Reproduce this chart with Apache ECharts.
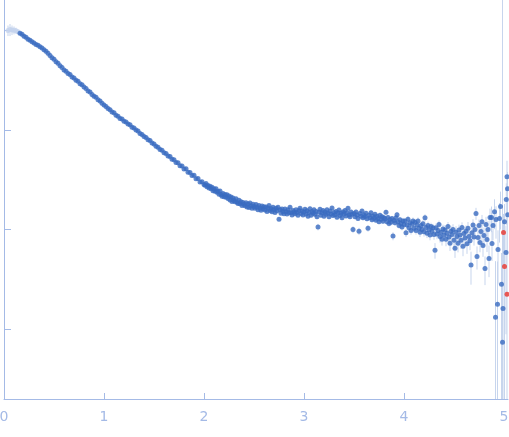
<!DOCTYPE html>
<html>
<head>
<meta charset="utf-8">
<title>SAXS curve</title>
<script src="https://cdn.jsdelivr.net/npm/echarts@6/dist/echarts.min.js"></script>
<style>
  html, body { margin: 0; padding: 0; background: #fff; }
  #chart { width: 509px; height: 437px; }
</style>
</head>
<body>
<div id="chart"></div>
<script>
// scattering vector s (nm^-1) and intensity
// first few points are drawn faded (not used in the fit)
var qMasked = [0.04, 0.06, 0.08, 0.10, 0.12, 0.14];
var iMasked = [99.0, 101, 100, 99.5, 98.5, 96.0];
var sMasked = [12, 14, 11, 9, 7, 5];

// smooth part of the curve
var qLow = [
  0.16, 0.18, 0.20, 0.22, 0.24, 0.26, 0.28, 0.30, 0.32, 0.34,
  0.36, 0.38, 0.40, 0.42, 0.44, 0.46, 0.48, 0.50, 0.52, 0.54,
  0.56, 0.58, 0.60, 0.62, 0.64, 0.66, 0.68, 0.70, 0.72, 0.74,
  0.76, 0.78, 0.80, 0.82, 0.84, 0.86, 0.88, 0.90, 0.92, 0.94,
  0.96, 0.98, 1.00, 1.02, 1.04, 1.06, 1.08, 1.10, 1.12, 1.14,
  1.16, 1.18, 1.20, 1.22, 1.24, 1.26, 1.28, 1.30, 1.32, 1.34,
  1.36, 1.38, 1.40, 1.42, 1.44, 1.46, 1.48, 1.50, 1.52, 1.54,
  1.56, 1.58, 1.60, 1.62, 1.64, 1.66, 1.68, 1.70, 1.72, 1.74,
  1.76, 1.78, 1.80, 1.82, 1.84, 1.86, 1.88, 1.90, 1.92, 1.94,
  1.96, 1.98, 2.00
];
var iLow = [
  92.6, 90.6, 86.8, 84.5, 81.0, 78.9, 76.1, 74.3, 71.6, 70.2,
  67.9, 65.9, 63.6, 61.1, 58.4, 55.7, 52.8, 50.9, 48.1, 46.5,
  43.8, 42.2, 39.7, 38.6, 36.7, 35.8, 33.9, 33.0, 31.4, 30.6,
  29.0, 28.3, 26.8, 25.9, 24.5, 23.9, 22.6, 21.7, 21.2, 20.0,
  19.4, 18.5, 17.7, 17.1, 16.3, 15.9, 15.1, 14.8, 14.0, 13.7,
  13.0, 12.8, 12.2, 11.95, 11.4, 11.2, 10.6, 10.4, 9.94, 9.70,
  9.20, 8.96, 8.55, 8.38, 7.96, 7.80, 7.39, 7.20, 6.84, 6.70,
  6.33, 6.22, 5.90, 5.80, 5.47, 5.39, 5.05, 5.01, 4.70, 4.66,
  4.35, 4.33, 4.05, 4.06, 3.76, 3.74, 3.48, 3.50, 3.22, 3.25,
  3.00, 3.02, 2.83
];
var sLow = [
  1.1, 1.1, 1.0, 1.0, 0.97, 0.95, 0.91, 0.89, 0.86, 0.84,
  0.81, 0.80, 0.76, 0.73, 0.69, 0.67, 0.63, 0.61, 0.58, 0.56,
  0.53, 0.51, 0.48, 0.46, 0.44, 0.43, 0.41, 0.40, 0.38, 0.37,
  0.35, 0.34, 0.32, 0.31, 0.29, 0.29, 0.27, 0.26, 0.25, 0.24,
  0.23, 0.22, 0.21, 0.21, 0.20, 0.19, 0.18, 0.18, 0.17, 0.16,
  0.16, 0.15, 0.15, 0.14, 0.14, 0.13, 0.13, 0.12, 0.12, 0.12,
  0.11, 0.11, 0.10, 0.10, 0.10, 0.094, 0.089, 0.086, 0.082, 0.080,
  0.076, 0.075, 0.071, 0.070, 0.066, 0.065, 0.061, 0.060, 0.056, 0.056,
  0.052, 0.052, 0.049, 0.049, 0.045, 0.045, 0.042, 0.042, 0.039, 0.039,
  0.036, 0.036, 0.034
];

// noisy plateau
var qMid = [
  2.01, 2.02, 2.03, 2.04, 2.05, 2.06, 2.07, 2.08, 2.09, 2.10,
  2.11, 2.12, 2.13, 2.14, 2.15, 2.16, 2.17, 2.18, 2.19, 2.20,
  2.21, 2.22, 2.23, 2.24, 2.25, 2.26, 2.27, 2.28, 2.29, 2.30,
  2.31, 2.32, 2.33, 2.34, 2.35, 2.36, 2.37, 2.38, 2.39, 2.40,
  2.41, 2.42, 2.43, 2.44, 2.45, 2.46, 2.47, 2.48, 2.49, 2.50,
  2.51, 2.52, 2.53, 2.54, 2.55, 2.56, 2.57, 2.58, 2.59, 2.60,
  2.61, 2.62, 2.63, 2.64, 2.65, 2.66, 2.67, 2.68, 2.69, 2.70,
  2.71, 2.72, 2.73, 2.74, 2.75, 2.76, 2.77, 2.78, 2.79, 2.80,
  2.81, 2.82, 2.83, 2.84, 2.85, 2.86, 2.87, 2.88, 2.89, 2.90,
  2.91, 2.92, 2.93, 2.94, 2.95, 2.96, 2.97, 2.98, 2.99, 3.00,
  3.01, 3.02, 3.03, 3.04, 3.05, 3.06, 3.07, 3.08, 3.09, 3.10,
  3.11, 3.12, 3.13, 3.14, 3.15, 3.16, 3.17, 3.18, 3.19, 3.20,
  3.21, 3.22, 3.23, 3.24, 3.25, 3.26, 3.27, 3.28, 3.29, 3.30,
  3.31, 3.32, 3.33, 3.34, 3.35, 3.36, 3.37, 3.38, 3.39, 3.40,
  3.41, 3.42, 3.43, 3.44, 3.45, 3.46, 3.47, 3.48, 3.49, 3.50,
  3.51, 3.52, 3.53, 3.54, 3.55, 3.56, 3.57, 3.58, 3.59, 3.60,
  3.61, 3.62, 3.63, 3.64, 3.65, 3.66, 3.67, 3.68, 3.69, 3.70,
  3.71, 3.72, 3.73, 3.74, 3.75, 3.76, 3.77, 3.78, 3.79, 3.80,
  3.81, 3.82, 3.83, 3.84, 3.85, 3.86, 3.87, 3.88, 3.89, 3.90,
  3.91, 3.92, 3.93, 3.94, 3.95, 3.96, 3.97, 3.98, 3.99, 4.00,
  4.01, 4.02, 4.03, 4.04, 4.05, 4.06, 4.07, 4.08, 4.09, 4.10,
  4.11, 4.12, 4.13, 4.14, 4.15, 4.16, 4.17, 4.18, 4.19, 4.20,
  4.21, 4.22, 4.23, 4.24, 4.25, 4.26, 4.27, 4.28, 4.29, 4.30,
  4.31, 4.32, 4.33, 4.34, 4.35, 4.36, 4.37, 4.38, 4.39, 4.40,
  4.41, 4.42, 4.43, 4.44, 4.45, 4.46, 4.47, 4.48, 4.49, 4.50,
  4.51, 4.52, 4.53, 4.54, 4.55, 4.56, 4.57, 4.58, 4.59, 4.60,
  4.61, 4.62, 4.63, 4.64, 4.65, 4.66, 4.67, 4.68, 4.69, 4.70
];
var iMid = [
  2.78, 2.90, 2.69, 2.76, 2.61, 2.72, 2.56, 2.66, 2.45, 2.57,
  2.42, 2.56, 2.36, 2.42, 2.26, 2.43, 2.25, 2.16, 2.30, 2.13,
  2.24, 2.11, 2.23, 2.05, 2.17, 1.98, 2.12, 1.91, 2.07, 1.95,
  1.90, 2.04, 1.88, 1.82, 1.97, 1.81, 1.90, 1.74, 1.87, 1.79,
  1.73, 1.86, 1.68, 1.80, 1.66, 1.84, 1.72, 1.63, 1.79, 1.70,
  1.63, 1.78, 1.67, 1.58, 1.74, 1.64, 1.56, 1.72, 1.62, 1.69,
  1.57, 1.68, 1.52, 1.64, 1.74, 1.55, 1.62, 1.51, 1.67, 1.58,
  1.48, 1.63, 1.54, 1.67, 1.27, 1.58, 1.46, 1.61, 1.52, 1.44,
  1.61, 1.51, 1.43, 1.58, 1.48, 1.67, 1.47, 1.40, 1.55, 1.50,
  1.44, 1.58, 1.48, 1.39, 1.55, 1.63, 1.45, 1.53, 1.40, 1.50,
  1.60, 1.43, 1.54, 1.36, 1.48, 1.62, 1.39, 1.52, 1.46, 1.58,
  1.42, 1.52, 1.34, 1.06, 1.50, 1.60, 1.39, 1.47, 1.55, 1.36,
  1.50, 1.42, 1.58, 1.46, 1.34, 1.53, 1.43, 1.64, 1.38, 1.48,
  1.41, 1.52, 1.33, 1.47, 1.57, 1.38, 1.46, 1.31, 1.50, 1.43,
  1.55, 1.37, 1.47, 1.63, 1.40, 1.34, 1.50, 1.42, 1.00, 1.45,
  1.34, 1.50, 1.40, 1.29, 0.96, 1.45, 1.36, 1.53, 1.31, 1.40,
  1.35, 1.46, 1.28, 1.03, 1.39, 1.31, 1.47, 1.25, 1.36, 1.30,
  1.42, 1.24, 1.36, 1.29, 1.20, 1.39, 1.27, 1.34, 1.21, 1.31,
  1.28, 1.49, 1.20, 1.32, 1.15, 1.26, 1.18, 1.29, 0.86, 1.23,
  1.17, 1.31, 1.41, 1.20, 1.10, 1.25, 1.15, 1.06, 1.22, 1.12,
  1.22, 0.93, 1.11, 1.27, 1.04, 1.17, 0.98, 1.13, 1.22, 1.03,
  1.18, 0.98, 1.11, 1.22, 1.03, 0.94, 1.10, 1.00, 1.14, 0.95,
  1.31, 1.05, 0.92, 1.10, 0.99, 0.88, 1.07, 0.96, 1.04, 0.89,
  0.62, 1.04, 0.90, 0.98, 1.12, 0.85, 0.94, 0.80, 1.01, 0.88,
  0.99, 0.80, 0.92, 1.07, 0.84, 0.73, 0.96, 0.89, 1.00, 0.78,
  0.65, 0.94, 0.85, 0.73, 0.99, 0.88, 0.78, 1.05, 0.68, 0.91,
  0.82, 0.96, 0.72, 1.03, 0.85, 0.77, 0.44, 0.93, 1.11, 0.84
];
var sMid = [
  0.07, 0.08, 0.07, 0.07, 0.07, 0.07, 0.06, 0.07, 0.06, 0.07,
  0.06, 0.07, 0.06, 0.06, 0.06, 0.06, 0.06, 0.06, 0.06, 0.06,
  0.06, 0.06, 0.06, 0.06, 0.06, 0.05, 0.06, 0.05, 0.06, 0.05,
  0.05, 0.06, 0.05, 0.05, 0.06, 0.05, 0.05, 0.05, 0.05, 0.05,
  0.05, 0.06, 0.05, 0.05, 0.05, 0.06, 0.05, 0.05, 0.06, 0.05,
  0.05, 0.06, 0.05, 0.05, 0.06, 0.05, 0.05, 0.06, 0.05, 0.05,
  0.05, 0.06, 0.05, 0.05, 0.06, 0.05, 0.05, 0.05, 0.06, 0.05,
  0.05, 0.06, 0.05, 0.06, 0.06, 0.05, 0.05, 0.06, 0.05, 0.05,
  0.06, 0.05, 0.05, 0.06, 0.05, 0.06, 0.05, 0.05, 0.06, 0.05,
  0.05, 0.06, 0.05, 0.05, 0.06, 0.06, 0.05, 0.06, 0.05, 0.06,
  0.07, 0.07, 0.08, 0.07, 0.07, 0.08, 0.07, 0.08, 0.07, 0.08,
  0.07, 0.08, 0.07, 0.08, 0.07, 0.08, 0.07, 0.07, 0.08, 0.07,
  0.08, 0.07, 0.08, 0.07, 0.07, 0.08, 0.07, 0.08, 0.07, 0.08,
  0.07, 0.08, 0.07, 0.08, 0.08, 0.07, 0.08, 0.07, 0.08, 0.07,
  0.08, 0.07, 0.08, 0.08, 0.07, 0.07, 0.08, 0.07, 0.08, 0.08,
  0.07, 0.08, 0.08, 0.07, 0.08, 0.08, 0.07, 0.08, 0.07, 0.08,
  0.08, 0.08, 0.07, 0.08, 0.08, 0.07, 0.08, 0.07, 0.08, 0.08,
  0.08, 0.07, 0.08, 0.08, 0.07, 0.08, 0.08, 0.08, 0.07, 0.08,
  0.08, 0.09, 0.08, 0.08, 0.08, 0.08, 0.08, 0.08, 0.08, 0.08,
  0.08, 0.09, 0.09, 0.08, 0.08, 0.09, 0.08, 0.08, 0.09, 0.08,
  0.09, 0.09, 0.09, 0.10, 0.09, 0.10, 0.09, 0.10, 0.10, 0.09,
  0.10, 0.09, 0.10, 0.10, 0.09, 0.10, 0.10, 0.09, 0.10, 0.10,
  0.11, 0.10, 0.10, 0.10, 0.11, 0.10, 0.10, 0.11, 0.10, 0.10,
  0.11, 0.11, 0.10, 0.11, 0.11, 0.11, 0.10, 0.11, 0.11, 0.11,
  0.12, 0.12, 0.13, 0.12, 0.13, 0.12, 0.13, 0.12, 0.13, 0.13,
  0.13, 0.14, 0.13, 0.14, 0.13, 0.14, 0.14, 0.13, 0.14, 0.14,
  0.15, 0.14, 0.15, 0.16, 0.15, 0.15, 0.16, 0.15, 0.16, 0.15
];

// high-angle tail, very noisy
var qHigh = [4.71, 4.72, 4.73, 4.74, 4.75, 4.76, 4.77, 4.78, 4.79, 4.80,
  4.81, 4.82, 4.83, 4.84, 4.85, 4.86, 4.875, 4.88, 4.89, 4.905,
  4.915, 4.92, 4.935, 4.94, 4.955, 4.965, 4.975, 4.985, 4.99, 5.005,
  5.02, 5.023, 5.03, 5.035, 5.037];
var iHigh = [1.00, 1.45, 0.537, 0.832, 1.10, 0.741, 0.955, 1.20, 0.692, 0.871,
  0.407, 1.12, 0.794, 1.00, 0.513, 1.32, 1.32, 0.724, 1.10, 1.51,
  0.132, 1.26, 0.178, 0.631, 1.29, 1.70, 0.282, 0.0741, 0.162, 1.20,
  0.589, 2.00, 3.39, 2.57, 1.41];
var sHigh = [0.12, 0.2, 0.14, 0.13, 0.16, 0.15, 0.17, 0.2, 0.16, 0.18,
  0.13, 0.22, 0.2, 0.22, 0.18, 0.3, 0.38, 0.24, 0.32, 0.5,
  0.35, 0.45, 0.3, 0.35, 0.55, 0.7, 0.3, 250, 0.4, 0.6,
  0.5, 0.9, 1.5, 1.2, 0.8];

// points flagged in red
var qRed = [4.995, 5.005, 5.03];
var iRed = [0.933, 0.427, 0.224];
var sRed = [0.5, 0.45, 0.4];

// axis settings
var xTicks = [0, 1, 2, 3, 4, 5];
var yTicks = [0.1, 1, 10, 100];
var xMax = 5.04;
var yMin = 0.02;
var yMax = 200;

(function () {
    var myChart = echarts.init(document.getElementById('chart'));

    function points(q, v) {
        var out = [];
        for (var k = 0; k < q.length; k++) out.push([q[k], v[k]]);
        return out;
    }
    // error bar rows: [q, low, high], clipped to the y range
    function bars(q, v, s) {
        var out = [];
        for (var k = 0; k < q.length; k++) {
            var lo = v[k] - s[k];
            var hi = v[k] + s[k];
            out.push([q[k], lo > yMin ? lo : yMin, hi < yMax ? hi : yMax]);
        }
        return out;
    }

    var qAll = qMasked.concat(qLow, qMid, qHigh, qRed);
    var iAll = iMasked.concat(iLow, iMid, iHigh, iRed);
    var sAll = sMasked.concat(sLow, sMid, sHigh, sRed);

    var axisColor = '#a4bae6';

    var option = {
        animation: false,
        grid: { left: 4, right: 1, top: 0, bottom: 38, outerBoundsMode: 'none' },
        xAxis: {
            type: 'value',
            min: 0,
            max: xMax,
            interval: 1,
            axisLine: { lineStyle: { color: axisColor, width: 1 } },
            axisTick: { inside: true, length: 6, customValues: xTicks, lineStyle: { color: axisColor } },
            axisLabel: {
                customValues: xTicks,
                color: axisColor,
                fontFamily: 'DejaVu Sans',
                fontSize: 14,
                margin: 11
            },
            splitLine: { show: false }
        },
        yAxis: {
            type: 'log',
            min: yMin,
            max: yMax,
            axisLine: { show: true, lineStyle: { color: axisColor, width: 1 } },
            axisTick: { show: true, inside: true, length: 7, customValues: yTicks, lineStyle: { color: axisColor } },
            axisLabel: { show: false },
            splitLine: { show: false }
        },
        series: [
            {
                // error bars
                type: 'custom',
                clip: true,
                silent: true,
                data: bars(qAll, iAll, sAll),
                encode: { x: 0, y: [1, 2] },
                renderItem: function (params, api) {
                    var p1 = api.coord([api.value(0), api.value(1)]);
                    var p2 = api.coord([api.value(0), api.value(2)]);
                    return {
                        type: 'line',
                        shape: { x1: p1[0], y1: p1[1], x2: p2[0], y2: p2[1] },
                        style: { stroke: '#c7d5ed', lineWidth: 1 }
                    };
                }
            },
            {
                type: 'scatter',
                symbolSize: 5,
                itemStyle: { color: '#c4d3ed' },
                data: points(qMasked, iMasked)
            },
            {
                type: 'scatter',
                symbolSize: 5,
                itemStyle: { color: '#3a6bc0' },
                data: points(qLow.concat(qMid, qHigh), iLow.concat(iMid, iHigh))
            },
            {
                type: 'scatter',
                symbolSize: 5,
                itemStyle: { color: '#e8352c' },
                data: points(qRed, iRed)
            }
        ]
    };
    myChart.setOption(option);

    window.addEventListener('resize', function () {
        myChart.resize();
    });
})();
</script>
</body>
</html>
